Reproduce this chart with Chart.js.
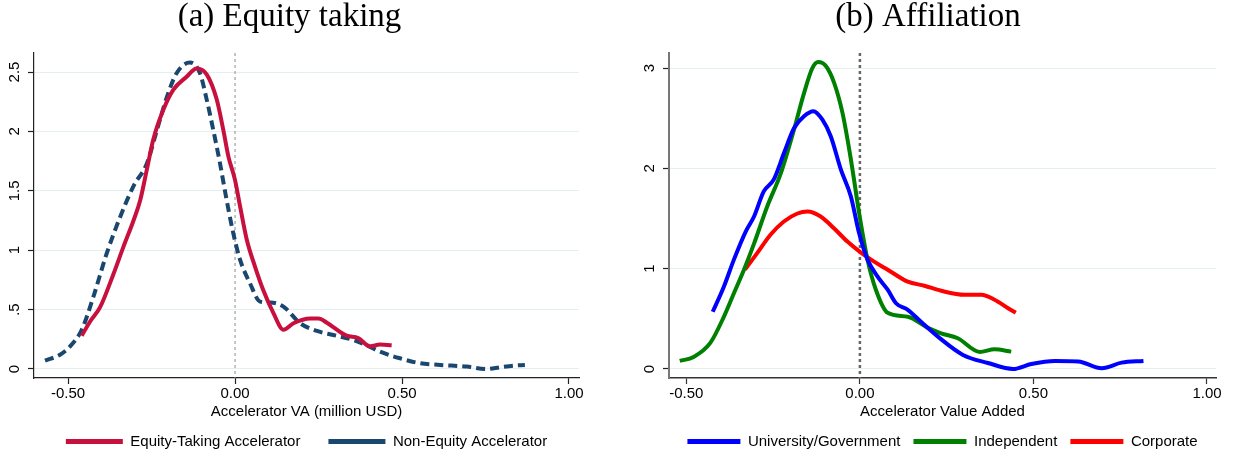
<!DOCTYPE html>
<html><head><meta charset="utf-8">
<script src="https://cdn.jsdelivr.net/npm/chart.js@4.4.1/dist/chart.umd.min.js"></script>
<style>
html,body{margin:0;padding:0;background:#fff;width:1235px;height:459px;overflow:hidden}
canvas{position:absolute;top:0}
#ca{left:0}
#cb{left:617px}
</style></head><body>
<canvas id="ca" width="617" height="459"></canvas>
<canvas id="cb" width="618" height="459"></canvas>
<script>
// ---------- Panel (a): Equity taking ----------
const TITLE_A = '(a) Equity taking';
const XTITLE_A = 'Accelerator VA (million USD)';
const X_TICKS_A = [-0.5, 0, 0.5, 1];
const X_TICK_LABELS_A = ['-0.50', '0.00', '0.50', '1.00'];
const Y_TICKS_A = [0, 0.5, 1, 1.5, 2, 2.5];
const Y_TICK_LABELS_A = ['0', '.5', '1', '1.5', '2', '2.5'];

const equityX = [-0.459, -0.434, -0.404, -0.364, -0.334, -0.304, -0.284, -0.264, -0.245, -0.215, -0.185, -0.145, -0.115, -0.085, -0.055, -0.035, -0.02, 0, 0.015, 0.035, 0.06, 0.085, 0.115, 0.145, 0.175, 0.225, 0.25, 0.275, 0.334, 0.369, 0.404, 0.434, 0.469];
const equityY = [0.28, 0.40, 0.52, 0.80, 1.03, 1.25, 1.42, 1.68, 1.93, 2.18, 2.35, 2.46, 2.53, 2.48, 2.27, 2.01, 1.79, 1.59, 1.37, 1.09, 0.86, 0.66, 0.47, 0.33, 0.385, 0.425, 0.425, 0.39, 0.28, 0.26, 0.19, 0.205, 0.20];

const nonEquityX = [-0.569, -0.524, -0.494, -0.459, -0.424, -0.384, -0.344, -0.304, -0.264, -0.234, -0.204, -0.175, -0.135, -0.105, -0.085, -0.065, -0.045, -0.025, -0.005, 0.015, 0.045, 0.075, 0.105, 0.145, 0.195, 0.245, 0.294, 0.354, 0.394, 0.434, 0.494, 0.554, 0.614, 0.694, 0.754, 0.793, 0.833, 0.868];
const nonEquityY = [0.07, 0.12, 0.19, 0.33, 0.61, 0.975, 1.28, 1.54, 1.73, 2.01, 2.29, 2.49, 2.58, 2.49, 2.27, 2.01, 1.73, 1.42, 1.14, 0.92, 0.72, 0.567, 0.56, 0.525, 0.385, 0.32, 0.286, 0.244, 0.20, 0.146, 0.09, 0.048, 0.034, 0.02, 0.0, 0.014, 0.028, 0.034];

// ---------- Panel (b): Affiliation ----------
const TITLE_B = '(b) Affiliation';
const XTITLE_B = 'Accelerator Value Added';
const X_TICKS_B = [-0.5, 0, 0.5, 1];
const X_TICK_LABELS_B = ['-0.50', '0.00', '0.50', '1.00'];
const Y_TICKS_B = [0, 1, 2, 3];
const Y_TICK_LABELS_B = ['0', '1', '2', '3'];

const univX = [-0.424, -0.392, -0.363, -0.329, -0.305, -0.277, -0.248, -0.219, -0.19, -0.161, -0.134, -0.108, -0.084, -0.055, -0.026, -0.002, 0.022, 0.051, 0.08, 0.104, 0.138, 0.176, 0.229, 0.297, 0.369, 0.441, 0.494, 0.562, 0.629, 0.697, 0.754, 0.817];
const univY = [0.57, 0.82, 1.09, 1.37, 1.52, 1.77, 1.89, 2.15, 2.40, 2.52, 2.57, 2.485, 2.32, 1.99, 1.72, 1.35, 1.09, 0.92, 0.79, 0.655, 0.59, 0.47, 0.31, 0.14, 0.06, 0.0, 0.05, 0.08, 0.075, 0.008, 0.063, 0.08];

const indepX = [-0.519, -0.479, -0.431, -0.392, -0.363, -0.334, -0.305, -0.267, -0.228, -0.19, -0.161, -0.137, -0.12, -0.098, -0.074, -0.05, -0.026, -0.002, 0.022, 0.046, 0.08, 0.138, 0.196, 0.234, 0.282, 0.345, 0.388, 0.436];
const indepY = [0.08, 0.12, 0.26, 0.52, 0.755, 0.99, 1.25, 1.62, 1.95, 2.385, 2.75, 3.0, 3.06, 3.02, 2.85, 2.55, 2.09, 1.55, 1.09, 0.79, 0.56, 0.52, 0.41, 0.356, 0.306, 0.17, 0.196, 0.173];

const corpX = [-0.331, -0.296, -0.257, -0.219, -0.18, -0.151, -0.113, -0.074, -0.036, 0.003, 0.041, 0.08, 0.138, 0.186, 0.234, 0.302, 0.35, 0.388, 0.427, 0.449];
const corpY = [0.99, 1.155, 1.34, 1.47, 1.55, 1.57, 1.52, 1.40, 1.27, 1.16, 1.07, 0.99, 0.87, 0.83, 0.78, 0.74, 0.74, 0.69, 0.605, 0.56];

// ---------- helpers ----------
Chart.defaults.font.family = '"Liberation Sans", Arial, sans-serif';
Chart.defaults.font.size = 15;
Chart.defaults.color = '#000';

const pts = (xs, ys) => xs.map((x, i) => ({x: x, y: ys[i]}));

function lineDs(label, xs, ys, color, dash) {
  return {
    label: label, data: pts(xs, ys), borderColor: color, backgroundColor: color,
    borderWidth: 4, borderDash: dash || [], pointRadius: 0, fill: false,
    cubicInterpolationMode: 'monotone', borderCapStyle: 'butt'
  };
}

const zeroLine = {
  id: 'zeroLine',
  beforeDatasetsDraw(chart, args, o) {
    const {ctx, chartArea} = chart;
    const px = chart.scales.x.getPixelForValue(0);
    ctx.save();
    ctx.strokeStyle = o.color; ctx.lineWidth = o.width; ctx.setLineDash(o.dash);
    ctx.beginPath(); ctx.moveTo(px, chartArea.top); ctx.lineTo(px, chartArea.bottom); ctx.stroke();
    ctx.restore();
  }
};

function makeChart(id, cfg) {
  const genDefault = Chart.defaults.plugins.legend.labels.generateLabels;
  return new Chart(document.getElementById(id), {
    type: 'line',
    data: {datasets: cfg.datasets},
    plugins: [zeroLine],
    options: {
      responsive: false, animation: false, devicePixelRatio: 1,
      layout: {padding: cfg.padding},
      plugins: {
        zeroLine: cfg.zero,
        tooltip: {enabled: false},
        title: {
          display: true, text: cfg.title, color: '#000',
          font: {family: '"Liberation Serif", "Times New Roman", serif', size: 33, weight: 'normal', lineHeight: 1},
          padding: {top: 1, bottom: 19}
        },
        legend: {
          position: 'bottom', fullSize: false,
          labels: {
            usePointStyle: true, pointStyle: 'line', pointStyleWidth: cfg.sampleW,
            padding: cfg.legendPad, color: '#000', font: {size: 15},
            generateLabels(chart) {
              return genDefault(chart).map(l => Object.assign(l, {lineWidth: 5}));
            }
          }
        }
      },
      scales: {
        x: {
          type: 'linear', min: cfg.xmin, max: cfg.xmax,
          afterBuildTicks: s => { s.ticks = cfg.xticks.map(v => ({value: v})); },
          ticks: {callback: (v, i) => cfg.xlabels[i], padding: 1, maxRotation: 0, minRotation: 0, autoSkip: false, color: '#000'},
          grid: {drawOnChartArea: false, drawTicks: true, tickLength: 6, tickColor: cfg.axisColor, tickWidth: 1.2},
          border: {display: true, color: cfg.axisColor, width: cfg.xAxisWidth},
          title: {display: true, text: cfg.xtitle, color: '#000', padding: {top: 0, bottom: cfg.xTitlePad}},
          afterFit: s => { s.height = cfg.xHeight; }
        },
        y: {
          type: 'linear', min: cfg.ymin, max: cfg.ymax,
          afterBuildTicks: s => { s.ticks = cfg.yticks.map(v => ({value: v})); },
          ticks: {callback: (v, i) => cfg.ylabels[i], minRotation: 90, maxRotation: 90, crossAlign: 'center', padding: cfg.yTickPad, autoSkip: false, color: '#000'},
          grid: {color: '#e5eef1', lineWidth: 1, drawTicks: true, tickLength: 6, tickColor: '#222', tickWidth: 1.2},
          border: {display: true, color: cfg.yAxisColor, width: cfg.yAxisWidth},
          afterFit: s => { s.width = cfg.yWidth; }
        }
      }
    }
  });
}

makeChart('ca', {
  title: TITLE_A, xtitle: XTITLE_A,
  datasets: [
    lineDs('Equity-Taking Accelerator', equityX, equityY, '#c8103e'),
    lineDs('Non-Equity Accelerator', nonEquityX, nonEquityY, '#1a476f', [9, 5])
  ],
  padding: {left: 0, right: 38, top: 0, bottom: 0},
  xmin: -0.602, xmax: 1.03, ymin: -0.076, ymax: 2.66,
  xticks: X_TICKS_A, xlabels: X_TICK_LABELS_A, yticks: Y_TICKS_A, ylabels: Y_TICK_LABELS_A,
  legendPad: 28, sampleW: 57, xHeight: 28, xTitlePad: -14.7, yTickPad: 2.6, yWidth: 34,
  axisColor: '#222', xAxisWidth: 1.2, yAxisColor: '#222', yAxisWidth: 1.2,
  zero: {color: '#8c8c8c', width: 1, dash: [3, 3]}
});

makeChart('cb', {
  title: TITLE_B, xtitle: XTITLE_B,
  datasets: [
    lineDs('University/Government', univX, univY, '#0000ff'),
    lineDs('Independent', indepX, indepY, '#008000'),
    lineDs('Corporate', corpX, corpY, '#ff0000')
  ],
  padding: {left: 23, right: 19, top: 0, bottom: 0},
  xmin: -0.55, xmax: 1.026, ymin: -0.09, ymax: 3.15,
  xticks: X_TICKS_B, xlabels: X_TICK_LABELS_B, yticks: Y_TICKS_B, ylabels: Y_TICK_LABELS_B,
  legendPad: 13, sampleW: 53, xHeight: 43, xTitlePad: 0.3, yTickPad: 8.8, yWidth: 29,
  axisColor: '#333', xAxisWidth: 1.5, yAxisColor: '#777', yAxisWidth: 2,
  zero: {color: '#666', width: 2.5, dash: [3, 3]}
});
</script>
</body></html>
